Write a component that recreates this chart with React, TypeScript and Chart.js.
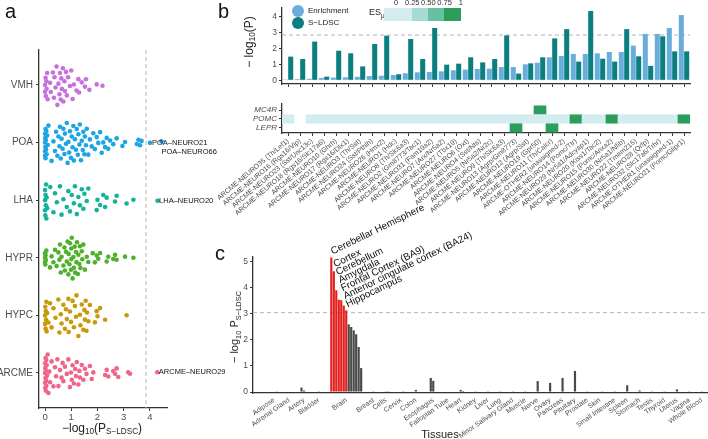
import React, { useEffect, useRef } from 'react';
import { Chart, registerables } from 'chart.js';
Chart.register(...registerables);

const FONT = "'Liberation Sans', Arial, Helvetica, sans-serif";
const AXIS = '#333333';
const TICK_TXT = '#4d4d4d';
Chart.defaults.font.family = FONT;

// ---------------- Panel a data ----------------
const regionNames = ['ARCME', 'HYPC', 'HYPR', 'LHA', 'POA', 'VMH'];
const regionColors = ['#f0668a', '#c69a0b', '#4fb12b', '#12b39a', '#1ba5e2', '#c771de'];
const arcmeP = [0, 0, 0, 0.01, 0.01, 0.02, 0.02, 0.03, 0.03, 0.04, 0.05, 0.05, 0.06, 0.08, 0.1, 0.13, 0.16, 0.19, 0.25, 0.32, 0.38, 0.42, 0.47, 0.51, 0.57, 0.63, 0.67, 0.7, 0.76, 0.83, 0.89, 0.95, 0.99, 1.02, 1.05, 1.1, 1.15, 1.18, 1.21, 1.27, 1.31, 1.33, 1.4, 1.46, 1.52, 1.58, 1.71, 1.78, 1.84, 2.29, 2.35, 2.41, 2.6, 2.67, 2.73, 2.79, 3.17, 3.24, 4.28];
const hypcP = [0, 0, 0.01, 0.02, 0.03, 0.04, 0.05, 0.06, 0.08, 0.13, 0.19, 0.25, 0.32, 0.4, 0.51, 0.55, 0.6, 0.63, 0.7, 0.76, 0.8, 0.83, 0.89, 0.9, 0.95, 0.99, 1.05, 1.1, 1.14, 1.18, 1.2, 1.27, 1.33, 1.35, 1.4, 1.46, 1.5, 1.52, 1.55, 1.58, 1.6, 1.65, 1.71, 1.9, 1.97, 2.0, 2.1, 2.29, 3.11];
const hyprP = [0, 0, 0, 0.01, 0.02, 0.03, 0.05, 0.19, 0.25, 0.32, 0.38, 0.44, 0.51, 0.55, 0.57, 0.6, 0.63, 0.7, 0.74, 0.76, 0.8, 0.83, 0.86, 0.89, 0.9, 0.93, 0.95, 0.99, 1.0, 1.0, 1.02, 1.05, 1.08, 1.1, 1.13, 1.15, 1.18, 1.2, 1.22, 1.25, 1.27, 1.31, 1.33, 1.35, 1.4, 1.42, 1.46, 1.52, 1.59, 1.65, 1.82, 1.9, 1.97, 2.03, 2.1, 2.35, 2.41, 2.6, 2.67, 2.73, 3.05, 3.37];
const lhaP = [0, 0, 0, 0.01, 0.02, 0.03, 0.04, 0.05, 0.06, 0.08, 0.2, 0.32, 0.38, 0.45, 0.57, 0.63, 0.7, 0.83, 0.89, 0.95, 1.02, 1.1, 1.14, 1.21, 1.27, 1.33, 1.4, 1.46, 1.5, 1.59, 1.65, 1.97, 2.0, 2.1, 2.22, 2.29, 2.35, 2.67, 2.73, 3.11, 3.37, 4.29];
const poaP = [0, 0, 0, 0, 0.01, 0.01, 0.02, 0.02, 0.03, 0.04, 0.05, 0.06, 0.08, 0.1, 0.13, 0.25, 0.32, 0.38, 0.42, 0.47, 0.51, 0.55, 0.57, 0.6, 0.63, 0.67, 0.7, 0.74, 0.76, 0.8, 0.83, 0.86, 0.89, 0.92, 0.95, 0.99, 1.02, 1.05, 1.08, 1.1, 1.14, 1.18, 1.21, 1.25, 1.27, 1.31, 1.33, 1.37, 1.4, 1.44, 1.46, 1.5, 1.52, 1.56, 1.59, 1.65, 1.71, 1.78, 1.84, 1.9, 1.97, 2.03, 2.1, 2.16, 2.22, 2.29, 2.35, 2.41, 2.48, 2.6, 2.73, 2.95, 3.05, 3.5, 3.56, 3.62, 3.68, 4.0, 4.44];
const vmhP = [0, 0, 0.02, 0.03, 0.05, 0.06, 0.08, 0.1, 0.19, 0.22, 0.3, 0.34, 0.36, 0.4, 0.44, 0.47, 0.51, 0.55, 0.57, 0.6, 0.62, 0.64, 0.68, 0.7, 0.74, 0.76, 0.8, 0.83, 0.88, 0.95, 1.0, 1.05, 1.1, 1.2, 1.27, 1.3, 1.4, 1.52, 1.56, 1.69, 1.97, 2.19];
const regionValues = [arcmeP, hypcP, hyprP, lhaP, poaP, vmhP];
const panelAThreshold = 3.85;
const pointLabels = [
  { region: 'POA', value: 4.0, name: 'POA–NEURO21', dx: 2, dy: 0 },
  { region: 'POA', value: 4.44, name: 'POA–NEURO66', dx: 0, dy: 11 },
  { region: 'LHA', value: 4.29, name: 'LHA–NEURO20', dx: 1.5, dy: 0 },
  { region: 'ARCME', value: 4.28, name: 'ARCME–NEURO29', dx: 1.5, dy: 0 },
];

// ---------------- Panel b data ----------------
const clusterNames = [
  'ARCME-NEURO35 (Th/Lef1)', 'ARCME-NEURO16 (Rgs16/Vip)', 'ARCME-NEURO23 (Sst/Unc13c)', 'ARCME-NEURO18 (Rgs16/Slc17a6)',
  'ARCME-NEURO10 (Ghrh)', 'ARCME-NEURO17 (Rgs16/Dlx1)', 'ARCME-NEURO3 (Th/Sst)', 'ARCME-NEURO24 (Sst/Pthlh)',
  'ARCME-NEURO26 (Hmx2)', 'ARCME-NEURO1 (Hdc)', 'ARCME-NEURO8 (Th/Slc6a3)', 'ARCME-NEURO2 (Gm8773/Tac1)',
  'ARCME-NEURO31 (Fam19a2)', 'ARCME-NEURO7 (Arx/Nr5a2)', 'ARCME-NEURO27 (Tbx19)', 'ARCME-NEURO6 (Oxt)',
  'ARCME-NEURO4 (Sst/Nts)', 'ARCME-NEURO5 (Nr5a2/Nr2c)', 'ARCME-NEURO9 (Th/Slc6a3)', 'ARCME-NEURO13 (Agrp/Gm8773)',
  'ARCME-NEURO12 (Agrp/Sst)', 'ARCME-NEURO19 (Gpr50)', 'ARCME-NEURO11 (Th/Calcr)', 'ARCME-OTHER2 (unassigned-2)',
  'ARCME-NEURO14 (Pomc/Ttr)', 'ARCME-NEURO29 (Nr5a1/Adcyap1)', 'ARCME-NEURO20 (Kiss1/Tac2)', 'ARCME-NEURO15 (Pomc/Anxa2)',
  'ARCME-NEURO30 (Nr5a1/Nfib)', 'ARCME-NEURO22 (Tmem215)', 'ARCME-NEURO28 (Qrfp)', 'ARCME-NEURO32 (Slc17a6/Trhr)',
  'ARCME-OTHER1 (unassigned-1)', 'ARCME-NEURO21 (Pomc/Glipr1)',
];
const enrichmentP = [0.05, 0.08, 0.1, 0.15, 0.17, 0.19, 0.22, 0.27, 0.29, 0.33, 0.44, 0.5, 0.52, 0.56, 0.63, 0.67, 0.71, 0.73, 0.83, 0.83, 1.0, 1.1, 1.44, 1.52, 1.65, 1.65, 1.69, 1.77, 1.77, 2.17, 2.9, 2.9, 3.27, 4.08];
const sldscP = [1.48, 1.33, 2.42, 0.23, 1.85, 1.69, 0.87, 2.27, 2.79, 0.38, 2.58, 1.33, 3.27, 0.98, 1.04, 1.44, 1.12, 1.33, 2.81, 0.42, 1.06, 1.44, 2.62, 3.2, 1.17, 4.33, 1.35, 1.17, 3.2, 1.5, 0.9, 2.75, 1.81, 1.81];
const panelBThreshold = 2.83;
const geneNames = ['LEPR', 'POMC', 'MC4R'];
const N = null;
const esLEPR = [N, N, N, N, N, N, N, N, N, N, N, N, N, N, N, N, N, N, N, 1, N, N, 1, N, N, N, N, N, N, N, N, N, N, N];
const esPOMC = [0.02, N, 0.02, 0.02, 0.02, 0.02, 0.02, 0.02, 0.02, 0.02, 0.02, 0.02, 0.02, 0.02, 0.02, 0.02, 0.02, 0.02, 0.02, 0.02, 0.02, 0.02, 0.02, 0.02, 1, 0.02, 0.02, 1, 0.02, 0.02, 0.02, 0.02, 0.02, 1];
const esMC4R = [N, N, N, N, N, N, N, N, N, N, N, N, N, N, N, N, N, N, N, N, N, 1, N, N, N, N, N, N, N, N, N, N, N, N];
const esGenes = [esLEPR, esPOMC, esMC4R];
const esBinColors = ['#d3ecf0', '#a4dbd2', '#66c29e', '#2b9e5b'];
const esTickLabels = ['0', '0.25', '0.50', '0.75', '1'];

// ---------------- Panel c data ----------------
const tissueGroups = ['Adipose', 'Adrenal Gland', 'Artery', 'Bladder', 'Brain', 'Breast', 'Cells', 'Cervix', 'Colon', 'Esophagus', 'Fallopian Tube', 'Heart', 'Kidney', 'Liver', 'Lung', 'Minor Salivary Gland', 'Muscle', 'Nerve', 'Ovary', 'Pancreas', 'Pituitary', 'Prostate', 'Skin', 'Small Intestine', 'Spleen', 'Stomach', 'Testis', 'Thyroid', 'Uterus', 'Vagina', 'Whole Blood'];
const tissueValues = [[0.02, 0.01], [0.02], [0.17, 0.06, 0.02], [0.01], [5.17, 4.64, 3.91, 3.55, 3.53, 3.32, 3.14, 2.6, 2.5, 2.37, 2.22, 1.73, 0.92], [0.01], [0.01, 0.01], [0.02, 0.03], [0.08, 0.02], [0.54, 0.43, 0.02], [0.02], [0.08, 0.04], [0.01], [0.01], [0.01], [0.01], [0.01], [0.42], [0.35], [0.54], [0.81], [0.01], [0.02, 0.01], [0.01], [0.26], [0.06], [0.01], [0.01], [0.1], [0.01], [0.01]];
const brainSubtissues = ['Cerebellar Hemisphere', 'Cortex', 'Cerebellum', 'Amygdala', 'Frontal Cortex (BA9)', 'Anterior cingulate cortex (BA24)', 'Hippocampus', 'Caudate (basal ganglia)', 'Nucleus accumbens (basal ganglia)', 'Putamen (basal ganglia)', 'Hypothalamus', 'Spinal cord (cervical c-1)', 'Substantia nigra'];
const panelCThreshold = 3.05;

// ---------------- helpers ----------------
const fixW = (w: number) => (s: any) => { s.width = w; s.paddingTop = 0; s.paddingBottom = 0; s.paddingLeft = 0; s.paddingRight = 0; };
const fixH = (h: number) => (s: any) => { s.height = h; s.paddingTop = 0; s.paddingBottom = 0; s.paddingLeft = 0; s.paddingRight = 0; };
const setTicks = (vals: number[]) => (s: any) => { s.ticks = vals.map((v) => ({ value: v })); };

function vdc(n: number) {
  let v = 0, d = 1;
  while (n > 0) { d *= 2; v += (n % 2) / d; n = Math.floor(n / 2); }
  return v;
}
function quasirandom(values: number[], center: number, maxW: number) {
  const s = values.slice().sort((a, b) => a - b);
  const bw = 0.28;
  const dens = s.map((x) => s.reduce((acc, y) => acc + Math.exp(-0.5 * ((x - y) / bw) ** 2), 0));
  const maxD = Math.max(...dens);
  return s.map((x, i) => ({ x, y: center + (vdc(i + 1) - 0.5) * 2 * maxW * (dens[i] / maxD) }));
}

function dashPlugin(axis: 'x' | 'y', value: number, color = '#b5b5b5') {
  return {
    id: 'dash_' + axis,
    beforeDatasetsDraw(chart: any) {
      const { ctx, chartArea, scales } = chart;
      ctx.save();
      ctx.strokeStyle = color; ctx.lineWidth = 1; ctx.setLineDash([4, 3]);
      ctx.beginPath();
      if (axis === 'x') {
        const p = scales.x.getPixelForValue(value);
        ctx.moveTo(p, chartArea.top); ctx.lineTo(p, chartArea.bottom);
      } else {
        const p = scales.y.getPixelForValue(value);
        ctx.moveTo(chartArea.left, p); ctx.lineTo(chartArea.right, p);
      }
      ctx.stroke(); ctx.restore();
    },
  };
}

const axisGrid = { display: true, drawOnChartArea: false, drawTicks: true, tickLength: 3, color: AXIS, lineWidth: 1 };
const axisBorder = { display: true, color: AXIS, width: 1.3 };

function ChartBox({ left, top, width, height, make }: any) {
  const ref = useRef<HTMLCanvasElement>(null);
  useEffect(() => {
    const chart = new Chart(ref.current as HTMLCanvasElement, make());
    return () => chart.destroy();
  }, []);
  return <canvas ref={ref} width={width} height={height} style={{ position: 'absolute', left, top, width, height }} />;
}

// ---------------- Panel a ----------------
function makePanelA(): any {
  const datasets = regionNames.map((r, i) => ({
    label: r,
    data: quasirandom(regionValues[i], i + 1, 0.37),
    backgroundColor: regionColors[i],
    borderWidth: 0,
    pointRadius: 2.3,
  }));
  const labelPlugin = {
    id: 'pointLabels',
    afterDatasetsDraw(chart: any) {
      const ctx = chart.ctx;
      ctx.save();
      ctx.font = `7.5px ${FONT}`; ctx.fillStyle = '#111'; ctx.textAlign = 'left'; ctx.textBaseline = 'middle';
      pointLabels.forEach((pl) => {
        const di = regionNames.indexOf(pl.region);
        const data = chart.data.datasets[di].data;
        const idx = data.findIndex((p: any) => p.x === pl.value);
        const el = chart.getDatasetMeta(di).data[idx];
        if (el) ctx.fillText(pl.name, el.x + pl.dx, el.y + pl.dy);
      });
      ctx.restore();
    },
  };
  return {
    type: 'scatter',
    data: { datasets },
    options: {
      animation: false, responsive: false, maintainAspectRatio: false, events: [],
      layout: { padding: { top: 50, right: 73, left: 0, bottom: 0 } },
      plugins: { legend: { display: false }, tooltip: { enabled: false } },
      scales: {
        x: {
          type: 'linear', min: -0.23, max: 4.65,
          afterBuildTicks: setTicks([0, 1, 2, 3, 4]), afterFit: fixH(31),
          grid: axisGrid, border: axisBorder,
          ticks: { color: TICK_TXT, font: { size: 9.5 }, padding: 1 },
        },
        y: {
          type: 'linear', min: 0.392, max: 6.607,
          afterBuildTicks: setTicks([1, 2, 3, 4, 5, 6]), afterFit: fixW(39),
          grid: axisGrid, border: axisBorder,
          ticks: { color: TICK_TXT, font: { size: 10 }, padding: 3, callback: (v: any) => regionNames[Math.round(v) - 1] },
        },
      },
    },
    plugins: [dashPlugin('x', panelAThreshold), labelPlugin],
  };
}

// ---------------- Panel b bars ----------------
function makePanelB1(): any {
  return {
    type: 'bar',
    data: {
      labels: clusterNames,
      datasets: [
        { label: 'Enrichment', data: enrichmentP, backgroundColor: '#69aedb', categoryPercentage: 0.9, barPercentage: 0.93 },
        { label: 'S-LDSC', data: sldscP, backgroundColor: '#0b7e80', categoryPercentage: 0.9, barPercentage: 0.93 },
      ],
    },
    options: {
      animation: false, responsive: false, maintainAspectRatio: false, events: [],
      layout: { padding: { top: 8, right: 18, left: 0, bottom: 0 } },
      plugins: { legend: { display: false }, tooltip: { enabled: false } },
      scales: {
        x: {
          afterFit: fixH(11),
          grid: { ...axisGrid, offset: false }, border: axisBorder,
          ticks: { display: false, autoSkip: false },
        },
        y: {
          min: -0.23, max: 4.52,
          afterBuildTicks: setTicks([0, 1, 2, 3, 4]), afterFit: fixW(42),
          grid: axisGrid, border: axisBorder,
          ticks: { color: TICK_TXT, font: { size: 8.5 }, padding: 2 },
        },
      },
    },
    plugins: [dashPlugin('y', panelBThreshold)],
  };
}

function esColor(v: number) {
  if (v < 0.25) return esBinColors[0];
  if (v < 0.5) return esBinColors[1];
  if (v < 0.75) return esBinColors[2];
  return esBinColors[3];
}

function makePanelB2(): any {
  const datasets = esGenes.map((vals, gi) => ({
    label: geneNames[gi],
    data: vals.map((v) => (v == null ? null : [gi + 1 - 0.47, gi + 1 + 0.47])),
    backgroundColor: vals.map((v) => (v == null ? 'rgba(0,0,0,0)' : esColor(v))),
    borderWidth: 0,
    grouped: false,
    categoryPercentage: 1,
    barPercentage: 1,
  }));
  return {
    type: 'bar',
    data: { labels: clusterNames, datasets },
    options: {
      animation: false, responsive: false, maintainAspectRatio: false, events: [],
      layout: { padding: { top: 9, right: 18, left: 0, bottom: 0 } },
      plugins: { legend: { display: false }, tooltip: { enabled: false } },
      scales: {
        x: {
          afterFit: fixH(92),
          grid: { ...axisGrid, offset: false }, border: axisBorder,
          ticks: { autoSkip: false, maxRotation: 40, minRotation: 40, color: TICK_TXT, font: { size: 7 }, padding: 1 },
        },
        y: {
          type: 'linear', min: 0.44, max: 3.67,
          afterBuildTicks: setTicks([1, 2, 3]), afterFit: fixW(82),
          grid: axisGrid, border: axisBorder,
          ticks: { color: TICK_TXT, font: { size: 8, style: 'italic' }, padding: 2, callback: (v: any) => geneNames[Math.round(v) - 1] },
        },
      },
    },
  };
}

// ---------------- Panel c ----------------
const LEAD = 8, GAP = 4, TRAIL = 2;
function buildSlots() {
  const labels: string[] = [];
  const values: (number | null)[] = [];
  const group: number[] = [];
  const member: number[] = [];
  for (let i = 0; i < LEAD; i++) { labels.push(''); values.push(null); group.push(-1); member.push(-1); }
  tissueGroups.forEach((g, gi) => {
    if (gi > 0) for (let k = 0; k < GAP; k++) { labels.push(''); values.push(null); group.push(-1); member.push(-1); }
    const vals = tissueValues[gi];
    const mid = Math.floor((vals.length - 1) / 2);
    vals.forEach((v, k) => { labels.push(k === mid ? g : ''); values.push(v); group.push(gi); member.push(k); });
  });
  for (let i = 0; i < TRAIL; i++) { labels.push(''); values.push(null); group.push(-1); member.push(-1); }
  return { labels, values, group, member };
}

function makePanelC(): any {
  const slots = buildSlots();
  const brainIdx = tissueGroups.indexOf('Brain');
  const labelPlugin = {
    id: 'brainLabels',
    afterDatasetsDraw(chart: any) {
      const ctx = chart.ctx;
      const meta = chart.getDatasetMeta(0);
      const items: { x: number; top: number; name: string }[] = [];
      slots.values.forEach((v, i) => {
        if (v != null && slots.group[i] === brainIdx && v >= panelCThreshold) {
          const el = meta.data[i];
          items.push({ x: el.x, top: el.y, name: brainSubtissues[slots.member[i]] });
        }
      });
      const ys: number[] = new Array(items.length);
      for (let i = items.length - 1; i >= 0; i--) {
        const cand = items[i].top - 3;
        ys[i] = i === items.length - 1 ? cand : Math.min(cand, ys[i + 1] - 8);
      }
      ctx.save();
      ctx.font = `10px ${FONT}`; ctx.fillStyle = '#111'; ctx.textAlign = 'left'; ctx.textBaseline = 'alphabetic';
      items.forEach((it, i) => {
        ctx.save();
        ctx.translate(it.x + 1.5, ys[i]);
        ctx.rotate((-26 * Math.PI) / 180);
        ctx.fillText(it.name, 0, 0);
        ctx.restore();
      });
      ctx.restore();
    },
  };
  return {
    type: 'bar',
    data: {
      labels: slots.labels,
      datasets: [{
        data: slots.values,
        backgroundColor: slots.values.map((v) => (v != null && v >= panelCThreshold ? '#e4201e' : '#4a4a4a')),
        borderWidth: 0, categoryPercentage: 1, barPercentage: 0.88,
      }],
    },
    options: {
      animation: false, responsive: false, maintainAspectRatio: false, events: [],
      layout: { padding: { top: 62, right: 0, left: 0, bottom: 0 } },
      plugins: { legend: { display: false }, tooltip: { enabled: false } },
      scales: {
        x: {
          afterFit: fixH(46),
          grid: { display: false, drawTicks: false }, border: axisBorder,
          ticks: { autoSkip: false, maxRotation: 35, minRotation: 35, color: TICK_TXT, font: { size: 7 }, padding: 3 },
        },
        y: {
          min: -0.038, max: 5.19,
          afterBuildTicks: setTicks([0, 1, 2, 3, 4, 5]), afterFit: fixW(53),
          grid: axisGrid, border: axisBorder,
          ticks: { color: TICK_TXT, font: { size: 8.5 }, padding: 2 },
        },
      },
    },
    plugins: [dashPlugin('y', panelCThreshold), labelPlugin],
  };
}

// ---------------- layout ----------------
const txt = (extra: any): any => ({ position: 'absolute', fontFamily: FONT, whiteSpace: 'nowrap', lineHeight: 1, color: '#111', ...extra });
const sub: any = { fontSize: '0.68em', verticalAlign: '-0.35em' };

export default function App() {
  useEffect(() => { document.body.style.margin = '0'; }, []);
  return (
    <div style={{ position: 'fixed', left: 0, top: 0, width: 708, height: 439, background: '#fff', overflow: 'hidden' }}>
      <ChartBox left={0} top={0} width={240} height={439} make={makePanelA} />
      <ChartBox left={240} top={0} width={468} height={95} make={makePanelB1} />
      <ChartBox left={200} top={95} width={508} height={130} make={makePanelB2} />
      <ChartBox left={200} top={195} width={508} height={244} make={makePanelC} />

      <div style={txt({ left: 5, top: 1, fontSize: 20 })}>a</div>
      <div style={txt({ left: 218, top: 1, fontSize: 20 })}>b</div>
      <div style={txt({ left: 215, top: 243, fontSize: 20 })}>c</div>

      <div style={txt({ left: 102, top: 429, fontSize: 12, transform: 'translate(-50%,-50%)', color: '#222' })}>
        −log<span style={sub}>10</span>(P<span style={sub}>S−LDSC</span>)
      </div>

      <div style={txt({ left: 250, top: 42, fontSize: 12, transform: 'translate(-50%,-50%) rotate(-90deg)', color: '#222' })}>
        − log<span style={sub}>10</span>(P)
      </div>

      <div style={{ position: 'absolute', left: 292, top: 5, width: 12, height: 12, borderRadius: 6, background: '#69aedb' }} />
      <div style={{ position: 'absolute', left: 292, top: 17, width: 12, height: 12, borderRadius: 6, background: '#0b7e80' }} />
      <div style={txt({ left: 308, top: 11, fontSize: 8, transform: 'translateY(-50%)', color: '#222' })}>Enrichment</div>
      <div style={txt({ left: 308, top: 23, fontSize: 8, transform: 'translateY(-50%)', color: '#222' })}>S−LDSC</div>

      <div style={txt({ left: 369, top: 14, fontSize: 9, transform: 'translateY(-50%)', color: '#222' })}>
        ES<span style={{ fontSize: '0.7em', verticalAlign: '-0.45em' }}>μ</span>
      </div>
      <div style={{ position: 'absolute', left: 384, top: 8, width: 28, height: 13, background: esBinColors[0] }} />
      <div style={{ position: 'absolute', left: 412, top: 8, width: 16, height: 13, background: esBinColors[1] }} />
      <div style={{ position: 'absolute', left: 428, top: 8, width: 16, height: 13, background: esBinColors[2] }} />
      <div style={{ position: 'absolute', left: 444, top: 8, width: 17, height: 13, background: esBinColors[3] }} />
      {esTickLabels.map((l, i) => (
        <div key={l} style={txt({ left: 396 + i * 16.2, top: 3, fontSize: 7.5, transform: 'translate(-50%,-50%)', color: '#333' })}>{l}</div>
      ))}

      <div style={txt({ left: 236, top: 327, fontSize: 11, transform: 'translate(-50%,-50%) rotate(-90deg)', color: '#222' })}>
        − log<span style={sub}>10</span> P<span style={sub}>S−LDSC</span>
      </div>
      <div style={txt({ left: 440, top: 434, fontSize: 11, transform: 'translate(-50%,-50%)', color: '#222' })}>Tissues</div>
    </div>
  );
}
